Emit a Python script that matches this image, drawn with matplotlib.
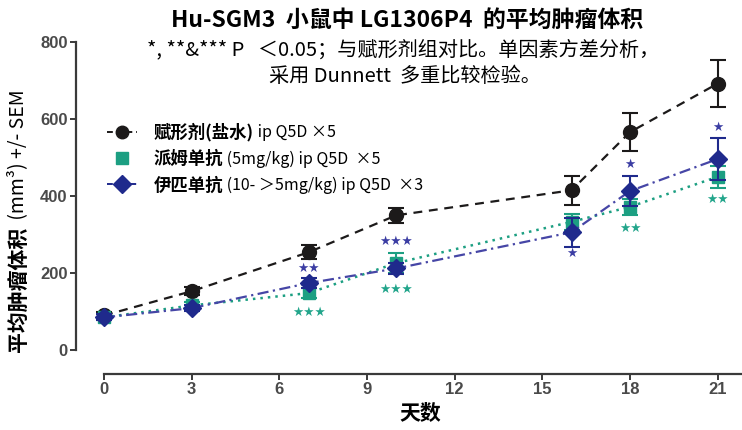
import matplotlib
matplotlib.use('Agg')
import matplotlib.pyplot as plt
from matplotlib.lines import Line2D

plt.rcParams['font.family'] = ['Noto Sans CJK SC', 'DejaVu Sans']

days = [0, 3, 7, 10, 16, 18, 21]
vehicle_mean = [90, 153, 254, 350, 415, 566, 692]
vehicle_sem = [8, 10, 18, 20, 38, 49, 60]
pemb_mean = [85, 116, 148, 226, 333, 372, 450]
pemb_sem = [8, 8, 12, 25, 20, 20, 28]
ipi_mean = [85, 109, 174, 212, 306, 413, 496]
ipi_sem = [8, 8, 12, 15, 38, 39, 55]

xticks = [0, 3, 6, 9, 12, 15, 18, 21]
yticks = [0, 200, 400, 600, 800]

ipi_stars_x = [7, 10, 16, 18, 21]
ipi_stars_y = [213, 283, 252, 483, 577]
ipi_stars_t = ['★★', '★★★', '★', '★', '★']
pemb_stars_x = [7, 10, 18, 21]
pemb_stars_y = [99, 158, 317, 390]
pemb_stars_t = ['★★★', '★★★', '★★', '★★']

legend_bold = ['赋形剂(盐水)', '派姆单抗', '伊匹单抗']
legend_norm = [' ip Q5D ×5', ' (5mg/kg) ip Q5D  ×5', ' (10- ＞5mg/kg) ip Q5D  ×3']

C_BLACK = '#1c1a1a'
C_GREEN = '#1c9f82'
C_BLUE = '#1f2a8c'
C_BLUE_LINE = '#4646a6'
C_STAR_BLUE = '#3b3da3'
C_STAR_GREEN = '#22a58b'
C_AX = '#3a3a3a'

W, H = 742, 430
fig = plt.figure(figsize=(W / 100, H / 100), dpi=100)
ax = fig.add_axes([76 / W, 1 - 374 / H, (741 - 76) / W, (374 - 42) / H])
ax.set_xlim(-0.96, 21.8)
ax.set_ylim(-62, 800)

ax.errorbar(days, vehicle_mean, yerr=vehicle_sem, color=C_BLACK, ls=(0, (4, 3)), lw=1.6,
            marker='o', ms=10, capsize=6, capthick=1.5, elinewidth=1.5, zorder=3)
ax.errorbar(days, pemb_mean, yerr=pemb_sem, color=C_GREEN, ls=(0, (1, 2)), lw=1.8,
            marker='s', ms=9, capsize=6, capthick=1.5, elinewidth=1.5, zorder=4)
ax.errorbar(days, ipi_mean, yerr=ipi_sem, color=C_BLUE, ls='none',
            marker='D', ms=9, capsize=6, capthick=1.5, elinewidth=1.5, zorder=5)
ax.plot(days, ipi_mean, color=C_BLUE_LINE, ls=(0, (5, 2, 1, 2)), lw=1.6, zorder=4.5)

for x, y, t in zip(ipi_stars_x, ipi_stars_y, ipi_stars_t):
    ax.text(x, y, t, color=C_STAR_BLUE, fontsize=9, ha='center', va='center',
            family=['DejaVu Sans'])
for x, y, t in zip(pemb_stars_x, pemb_stars_y, pemb_stars_t):
    ax.text(x, y, t, color=C_STAR_GREEN, fontsize=9, ha='center', va='center',
            family=['DejaVu Sans'])

for s in ['top', 'right']:
    ax.spines[s].set_visible(False)
ax.spines['left'].set_bounds(0, 800)
ax.spines['bottom'].set_bounds(0, 21.8)
for s in ['left', 'bottom']:
    ax.spines[s].set_color(C_AX)
    ax.spines[s].set_linewidth(1.6)
ax.set_xticks(xticks)
ax.set_yticks(yticks)
ax.tick_params(axis='both', direction='out', length=4, width=1.4, color=C_AX, pad=2)
for lab in ax.get_xticklabels() + ax.get_yticklabels():
    lab.set_family(['Liberation Sans Narrow', 'Liberation Sans'])
    lab.set_fontweight('bold')
    lab.set_fontsize(12)
    lab.set_color('#4a4a4a')

handles = [
    Line2D([], [], color=C_BLACK, ls=(0, (3, 2)), lw=1.4, marker='o', ms=9),
    Line2D([], [], color=C_GREEN, ls='none', marker='s', ms=9),
    Line2D([], [], color=C_BLUE, ls=(0, (3, 1, 1, 1)), lw=1.4, marker='D', ms=9),
]
leg = ax.legend(handles, legend_bold, loc='upper left',
                bbox_to_anchor=(107 / W, 1 - 123 / H), bbox_transform=fig.transFigure,
                frameon=False, handlelength=1.7, handletextpad=1.0, labelspacing=0.48,
                prop={'family': ['Noto Sans CJK SC', 'DejaVu Sans'], 'weight': 'bold', 'size': 12.5},
                borderpad=0, borderaxespad=0)

fig.text(407 / W, 1 - 20 / H, 'Hu-SGM3  小鼠中 LG1306P4  的平均肿瘤体积', ha='center', va='center',
         fontsize=16.5, fontweight='bold')
fig.text(403 / W, 1 - 50 / H, '*, **&*** P   ＜0.05；与赋形剂组对比。单因素方差分析，', ha='center',
         va='center', fontsize=14.5)
fig.text(405 / W, 1 - 77 / H, '采用 Dunnett  多重比较检验。', ha='center', va='center', fontsize=14.5)

fig.text(420 / W, 1 - 413 / H, '天数', ha='center', va='center', fontsize=15, fontweight='bold')

ylab1 = fig.text(18 / W, 1 - 352 / H, '平均肿瘤体积', rotation=90, rotation_mode='anchor',
                 ha='left', va='center', fontsize=15, fontweight='bold')

fig.canvas.draw()
r = fig.canvas.get_renderer()
bb = ylab1.get_window_extent(r)
fig.text(18 / W, (bb.y1 + 3) / H, ' (mm³) +/- SEM', rotation=90, rotation_mode='anchor',
         ha='left', va='center', fontsize=14)
for t, s in zip(leg.get_texts(), legend_norm):
    tb = t.get_window_extent(r)
    fig.text(tb.x1 / W, (tb.y0 + tb.y1) / 2 / H, s, ha='left', va='center', fontsize=11.5)

fig.savefig('out.png', dpi=100)
